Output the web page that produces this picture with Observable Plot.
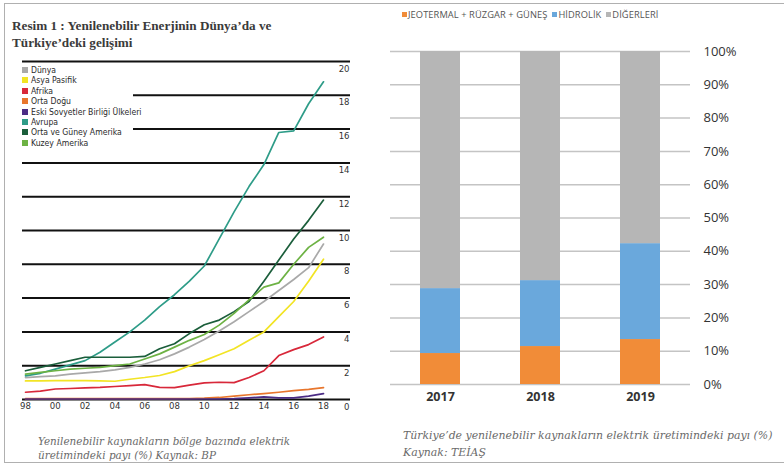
<!DOCTYPE html>
<html><head><meta charset="utf-8">
<script src="https://cdn.jsdelivr.net/npm/d3@7"></script>
<script src="https://cdn.jsdelivr.net/npm/@observablehq/plot@0.6"></script>
<style>
body{margin:0;background:#fff;}
#wrap{position:relative;width:784px;height:469px;overflow:hidden;background:#fff;}
#frame{position:absolute;left:4px;top:3px;width:800px;height:460px;border:1.5px solid #b0b0b0;box-sizing:border-box;}
.abs{position:absolute;white-space:nowrap;}
.title{font-family:"Liberation Serif",serif;font-weight:bold;font-size:13.2px;color:#3a3a3a;left:12px;}
.leg{font-family:"Liberation Sans Narrow","DejaVu Sans Condensed",sans-serif;font-size:8.6px;color:#2a2a2a;line-height:10px;}
.sw{position:absolute;width:6px;height:6px;}
.cap{font-family:"DejaVu Serif",serif;font-style:italic;color:#6a6a6a;}
.rleg{font-family:"Open Sans",sans-serif;font-size:9.3px;letter-spacing:0.08px;color:#555;line-height:10px;}
svg{position:absolute;top:0;}
</style></head><body><div id="wrap"><div id="frame"></div></div>
<script>
// ---- Left chart data (share of renewables in electricity generation, %) ----
const years = [1998,1999,2000,2001,2002,2003,2004,2005,2006,2007,2008,2009,2010,2011,2012,2013,2014,2015,2016,2017,2018];
const seriesNames = ["Dünya","Asya Pasifik","Afrika","Orta Doğu","Eski Sovyetler Birliği Ülkeleri","Avrupa","Orta ve Güney Amerika","Kuzey Amerika"];
const dunya       = [1.3,1.35,1.4,1.5,1.58,1.65,1.75,1.9,2.1,2.35,2.7,3.1,3.55,4.05,4.6,5.2,5.8,6.45,7.1,7.8,9.2];
const asyaPasifik = [1.1,1.1,1.12,1.12,1.12,1.1,1.08,1.2,1.3,1.42,1.65,2.0,2.3,2.65,3.0,3.5,4.0,4.9,5.8,7.0,8.3];
const afrika      = [0.43,0.5,0.62,0.65,0.69,0.72,0.77,0.82,0.88,0.72,0.7,0.85,0.98,1.02,1.0,1.3,1.7,2.6,2.95,3.25,3.7];
const ortaDogu    = [0.05,0.05,0.05,0.05,0.05,0.05,0.05,0.05,0.05,0.05,0.05,0.06,0.08,0.12,0.2,0.28,0.35,0.43,0.52,0.6,0.7];
const eskiSovyet  = [0.03,0.03,0.03,0.03,0.03,0.03,0.03,0.03,0.03,0.03,0.03,0.03,0.03,0.03,0.05,0.1,0.15,0.1,0.1,0.2,0.35];
const avrupa      = [1.4,1.55,1.8,2.05,2.3,2.8,3.4,4.0,4.7,5.5,6.2,7.0,7.9,9.5,11.1,12.6,13.9,15.8,15.9,17.5,18.8];
const ortaGuneyAm = [1.7,1.9,2.1,2.3,2.5,2.5,2.5,2.5,2.55,3.0,3.3,3.9,4.42,4.7,5.2,5.8,7.0,8.25,9.5,10.6,11.8];
const kuzeyAm     = [1.5,1.6,1.7,1.8,1.85,1.9,2.0,2.1,2.4,2.7,3.1,3.5,3.85,4.4,5.1,5.9,6.65,6.9,8.0,9.0,9.6];
const seriesValues = [dunya,asyaPasifik,afrika,ortaDogu,eskiSovyet,avrupa,ortaGuneyAm,kuzeyAm];
const seriesColors = ["#a9a9a9","#f2e424","#d8283a","#e8762d","#4b2c85","#2e9c88","#1b5e3b","#6db244"];
const leftTicks = [0,2,4,6,8,10,12,14,16,18,20];
const leftGridFull = [0,2,4,6,8,10,12,14,20];
const leftGridShort = [16,18];
const xTicks = [1998,2000,2002,2004,2006,2008,2010,2012,2014,2016,2018];

// ---- Right chart data (Türkiye, %) ----
const barYears = ["2017","2018","2019"];
const typeNames = ["JEOTERMAL + RÜZGAR + GÜNEŞ","HİDROLİK","DİĞERLERİ"];
const jeoRuzgarGunes = [9.3,11.4,13.5];
const hidrolik = [19.5,19.8,28.8];
const digerleri = [71.2,68.8,57.7];
const typeColors = ["#f18c38","#6aa8dc","#b6b6b6"];
const pctTicks = [0,10,20,30,40,50,60,70,80,90,100];

const wrap = document.getElementById("wrap");
function add(html, cls, style){const d=document.createElement("div");d.className="abs "+cls;d.style.cssText=style;d.innerHTML=html;wrap.appendChild(d);return d;}

// Left chart
const lineData = [];
seriesNames.forEach((name,i)=>seriesValues[i].forEach((v,j)=>lineData.push({year:years[j],value:v,series:name})));
const left = Plot.plot({
  width:360,height:420,marginLeft:22,marginRight:10,marginTop:61,marginBottom:21,
  style:{fontFamily:"'Liberation Sans Narrow','DejaVu Sans Condensed',sans-serif",fontSize:"9.5px",color:"#333",background:"transparent"},
  x:{domain:[1998,2018],range:[25,323],label:null},
  y:{domain:[0,20],label:null},
  color:{domain:seriesNames,range:seriesColors},
  marks:[
    Plot.gridY(leftGridFull,{stroke:"#111",strokeOpacity:1,strokeWidth:2}),
    Plot.gridY(leftGridShort,{stroke:"#111",strokeOpacity:1,strokeWidth:2,insetLeft:111}),
    Plot.axisY(leftTicks,{anchor:"right",tickSize:0,tickPadding:0,textAnchor:"end",dx:-1,dy:7,tickFormat:d=>String(d),label:null}),
    Plot.axisX(xTicks,{anchor:"bottom",tickSize:0,tickPadding:3,tickFormat:d=>String(d).slice(2),label:null}),
    Plot.line(lineData,{x:"year",y:"value",z:"series",stroke:"series",strokeWidth:1.7})
  ]
});
left.style.left="0px";
wrap.appendChild(left);

// Right chart
const barData = [];
barYears.forEach((yr,i)=>{
  barData.push({year:yr,type:typeNames[0],value:jeoRuzgarGunes[i]});
  barData.push({year:yr,type:typeNames[1],value:hidrolik[i]});
  barData.push({year:yr,type:typeNames[2],value:digerleri[i]});
});
const right = Plot.plot({
  width:414,height:420,marginLeft:20,marginRight:94,marginTop:51,marginBottom:36,
  style:{fontFamily:"'Open Sans',sans-serif",fontSize:"13px",color:"#333",background:"transparent"},
  x:{domain:barYears,paddingInner:0.6,paddingOuter:0.3,label:null},
  y:{domain:[0,100],label:null},
  color:{domain:typeNames,range:typeColors},
  marks:[
    Plot.gridY(pctTicks,{stroke:"#c4c4c4",strokeOpacity:1,strokeWidth:1.5}),
    Plot.barY(barData,{x:"year",y:"value",fill:"type"}),
    Plot.axisY(pctTicks,{anchor:"right",tickSize:0,tickPadding:13,tickFormat:d=>d+"%",fontSize:13,label:null}),
    Plot.axisX({anchor:"bottom",tickSize:0,tickPadding:8,fontWeight:"bold",fontSize:12.5,label:null})
  ]
});
right.style.left="370px";
wrap.appendChild(right);

// Titles
add("Resim 1 : Yenilenebilir Enerjinin Dünya’da ve","title","top:18px;");
add("Türkiye’deki gelişimi","title","top:35px;");

// Left legend
seriesNames.forEach((name,i)=>{
  const y = 65 + i*10.4;
  const sw = document.createElement("div");sw.className="sw";sw.style.cssText=`left:22px;top:${y+2}px;background:${seriesColors[i]}`;wrap.appendChild(sw);
  add(name,"leg",`left:31px;top:${y}px;`);
});

// Right legend
let lx = 402;
typeNames.forEach((name,i)=>{
  const sw = document.createElement("div");sw.className="sw";sw.style.cssText=`left:${lx}px;top:12px;width:5px;height:5px;background:${typeColors[i]}`;wrap.appendChild(sw);
  const d = add(name,"rleg",`left:${lx+6}px;top:10px;`);
  lx += 6 + d.getBoundingClientRect().width + 5;
});

// Captions
add("Yenilenebilir kaynakların bölge bazında elektrik","cap","left:38px;top:435px;font-size:10.4px;");
add("üretimindeki payı (%) Kaynak: BP","cap","left:38px;top:449px;font-size:10.4px;");
add("Türkiye’de yenilenebilir kaynakların elektrik üretimindeki payı (%)","cap","left:403px;top:429px;font-size:10.9px;");
add("Kaynak: TEİAŞ","cap","left:403px;top:446px;font-size:10.9px;");
</script></body></html>
